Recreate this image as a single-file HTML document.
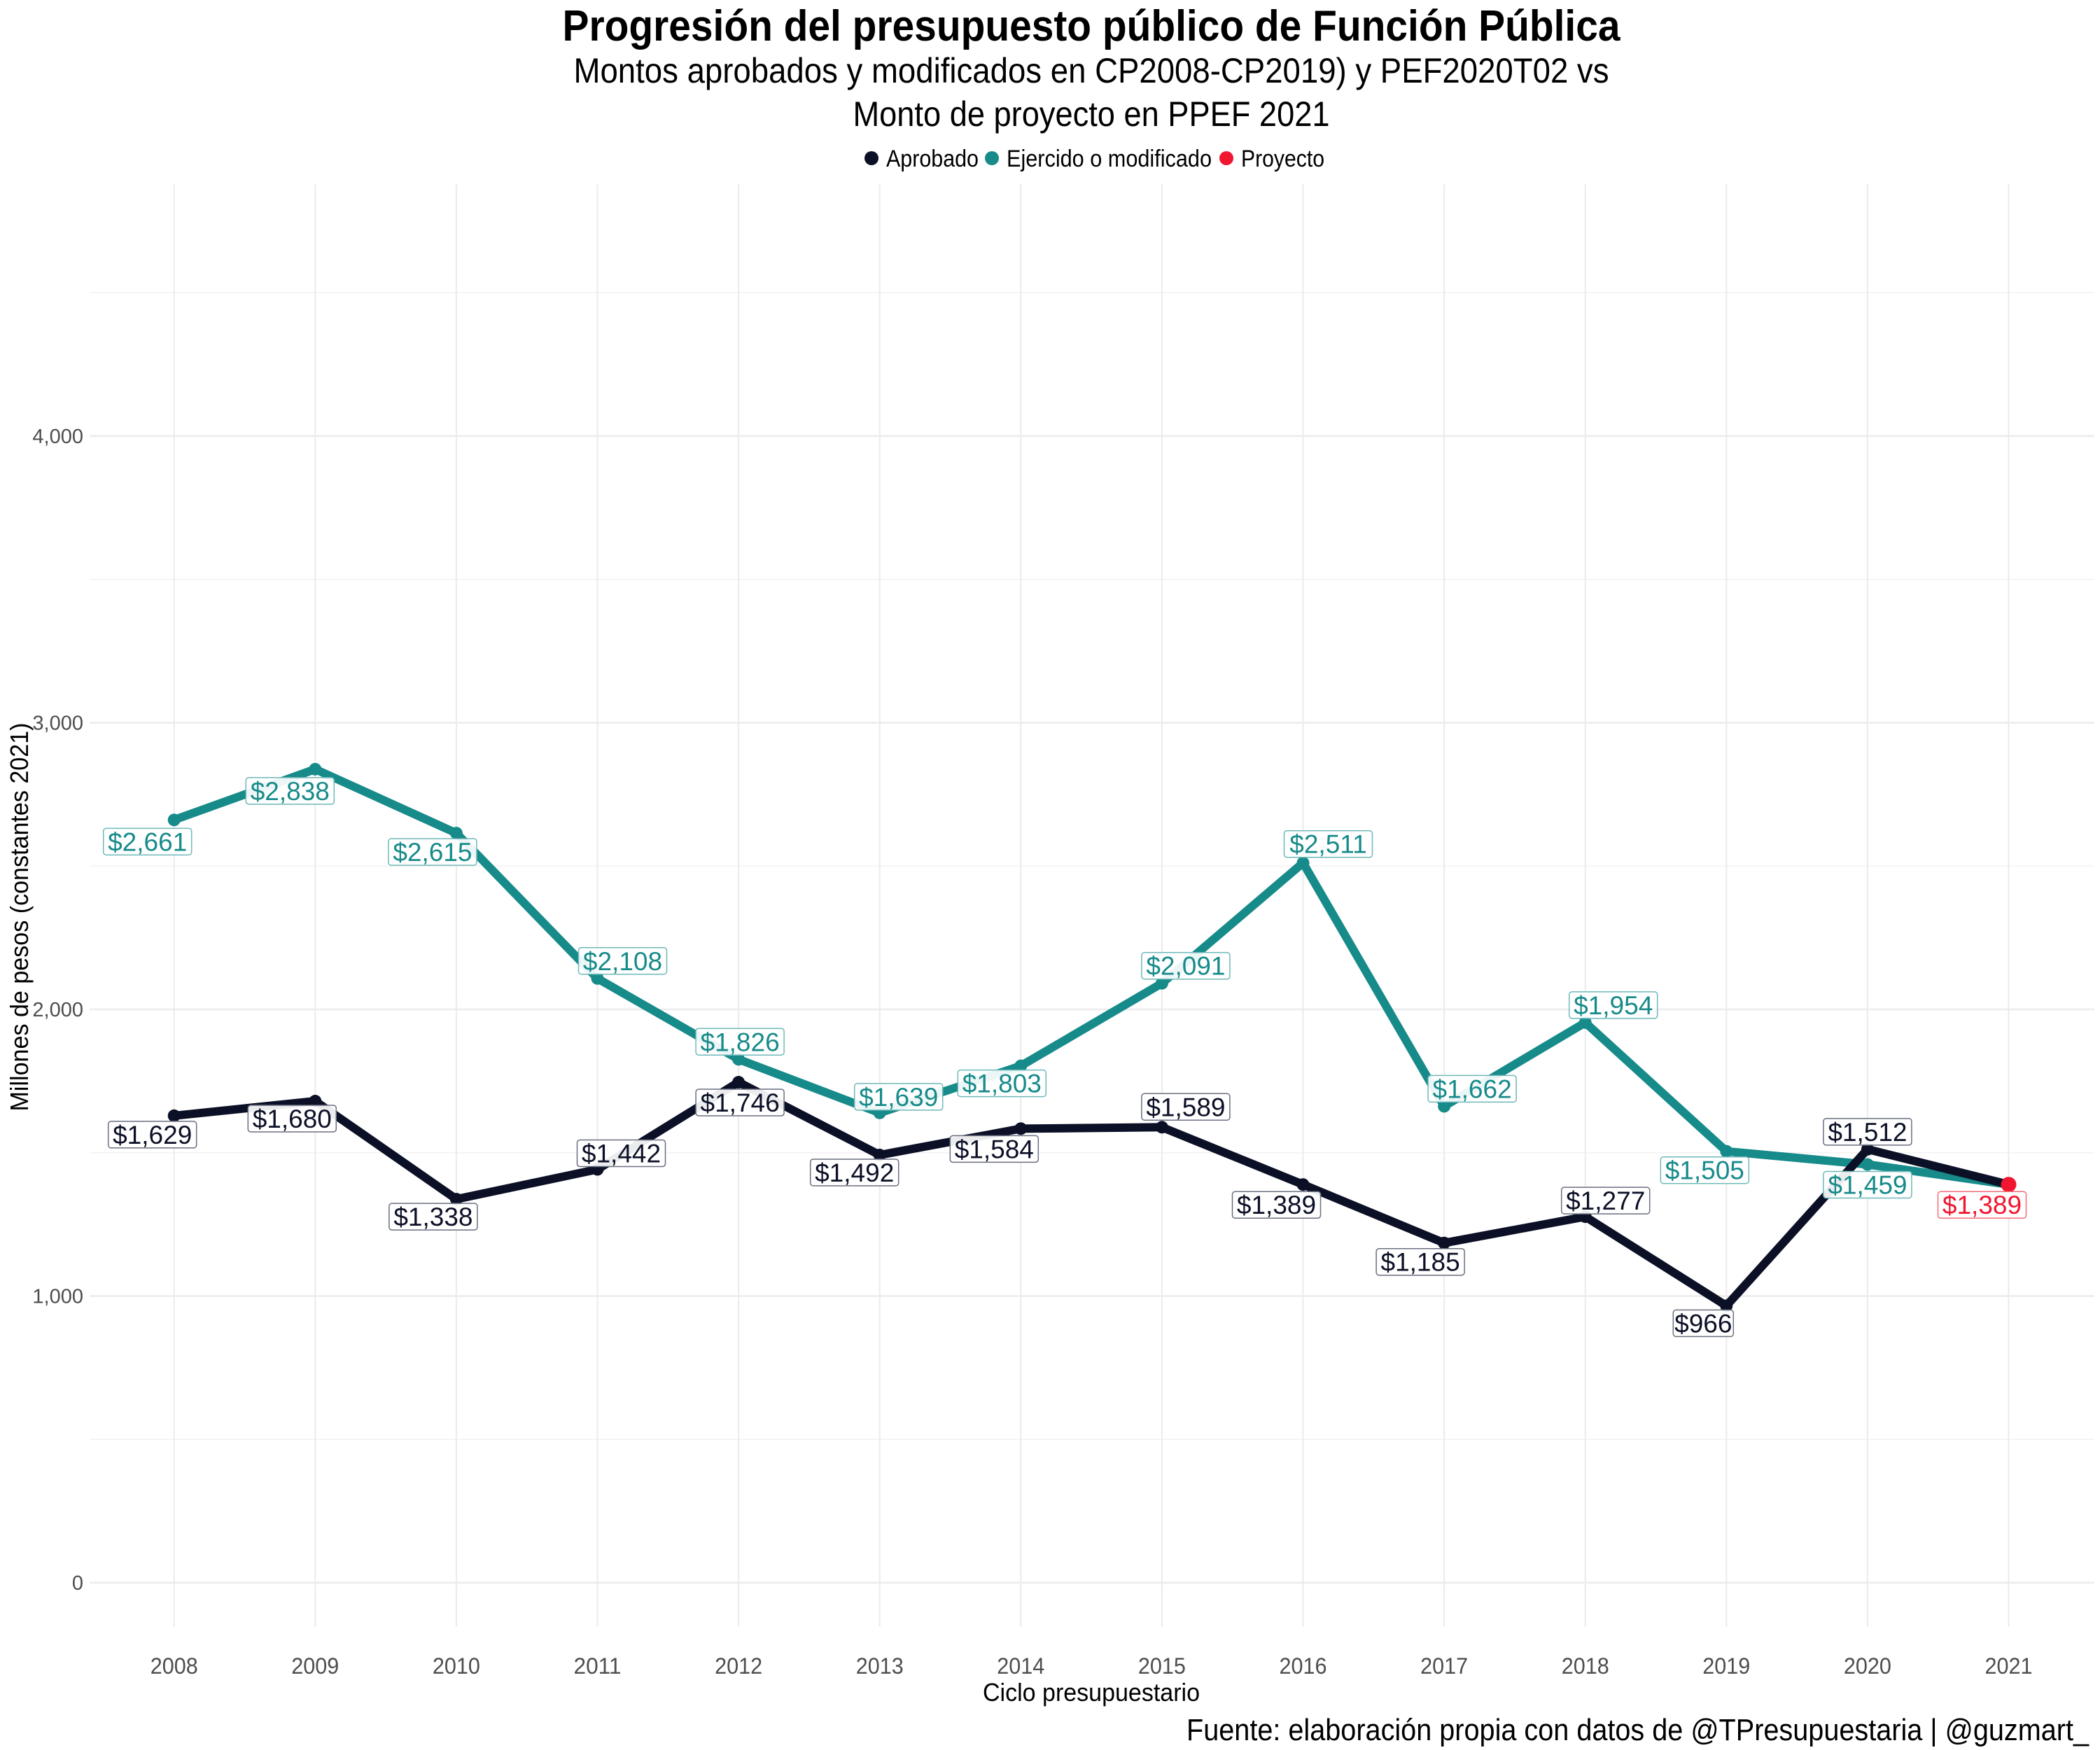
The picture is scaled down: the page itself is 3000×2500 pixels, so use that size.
<!DOCTYPE html>
<html><head><meta charset="utf-8"><style>
html,body{margin:0;padding:0;background:#fff;}
svg{display:block;}
</style></head><body>
<svg id="chart" width="3000" height="2500" viewBox="0 0 3000 2500" xmlns="http://www.w3.org/2000/svg">
<rect width="3000" height="2500" fill="#fff"/>
<text x="1559" y="58" text-anchor="middle" font-family="'Liberation Sans Narrow','Liberation Sans',sans-serif" font-weight="bold" font-size="62" textLength="1511" lengthAdjust="spacingAndGlyphs">Progresión del presupuesto público de Función Pública</text>
<text x="1559" y="118" text-anchor="middle" font-family="'Liberation Sans Narrow','Liberation Sans',sans-serif" font-size="50" textLength="1479" lengthAdjust="spacingAndGlyphs">Montos aprobados y modificados en CP2008-CP2019) y PEF2020T02 vs</text>
<text x="1559" y="180" text-anchor="middle" font-family="'Liberation Sans Narrow','Liberation Sans',sans-serif" font-size="50" textLength="681" lengthAdjust="spacingAndGlyphs">Monto de proyecto en PPEF 2021</text>
<g font-family="'Liberation Sans Narrow','Liberation Sans',sans-serif" font-size="34">
  <g><circle cx="1245" cy="226" r="10" fill="#0b1026"/><text x="1266" y="238" textLength="132" lengthAdjust="spacingAndGlyphs">Aprobado</text></g>
  <g><circle cx="1417" cy="226" r="10" fill="#178a8a"/><text x="1438" y="238" textLength="293" lengthAdjust="spacingAndGlyphs">Ejercido o modificado</text></g>
  <g><circle cx="1752" cy="226" r="10" fill="#f0162f"/><text x="1773" y="238" textLength="119" lengthAdjust="spacingAndGlyphs">Proyecto</text></g>
</g>
<g id="grid"></g>
<g id="axes"></g>
<g id="series"></g>
<g id="labels"></g>
<text transform="translate(40,1310) rotate(-90)" text-anchor="middle" font-family="'Liberation Sans Narrow','Liberation Sans',sans-serif" font-size="36" textLength="555" lengthAdjust="spacingAndGlyphs">Millones de pesos (constantes 2021)</text>
<text x="1559" y="2430" text-anchor="middle" font-family="'Liberation Sans Narrow','Liberation Sans',sans-serif" font-size="36" textLength="310" lengthAdjust="spacingAndGlyphs">Ciclo presupuestario</text>
<text x="2984" y="2486" text-anchor="end" font-family="'Liberation Sans Narrow','Liberation Sans',sans-serif" font-size="44" textLength="1289" lengthAdjust="spacingAndGlyphs">Fuente: elaboración propia con datos de @TPresupuestaria | @guzmart_</text>
</svg>
<script>
const years = [2008,2009,2010,2011,2012,2013,2014,2015,2016,2017,2018,2019,2020,2021];
const aprobado = [1629,1680,1338,1442,1746,1492,1584,1589,1389,1185,1277,966,1512,1389];
const ejercido = [2661,2838,2615,2108,1826,1639,1803,2091,2511,1662,1954,1505,1459,1389];
const proyectoYears = [2021];
const proyecto = [1389];
const yTicks = [0,1000,2000,3000,4000];
const yTickLabels = ["0","1,000","2,000","3,000","4,000"];
const yMinor = [500,1500,2500,3500,4500];
// label offsets (layout, in px)
const aprOff = [[-31,27],[-33,25],[-33,25],[34,-23],[2,29],[-36,25],[-38,29],[34,-29],[-38,29],[-34,27],[29,-23],[-33,25],[0,-25]];
const ejeOff = [[-38,31],[-36,31],[-34,27],[36,-25],[2,-25],[27,-23],[-27,25],[34,-25],[36,-27],[40,-25],[40,-25],[-31,27],[0,29]];
const proOff = [[-38,29]];

const NS="http://www.w3.org/2000/svg";
const X0=248.7, XS=201.6, Y0=2261, YS=0.4095;
const PX0=128, PX1=2992, PY0=263, PY1=2324;
function xp(yr){return X0+(yr-2008)*XS;}
function yp(v){return Y0-v*YS;}
function el(tag,attrs,parent){const e=document.createElementNS(NS,tag);for(const k in attrs)e.setAttribute(k,attrs[k]);parent.appendChild(e);return e;}
const grid=document.getElementById('grid'), axes=document.getElementById('axes'), series=document.getElementById('series'), labels=document.getElementById('labels');

yMinor.forEach(v=>{const l=el('line',{x1:PX0,x2:PX1,y1:yp(v),y2:yp(v),stroke:'#f2f2f2','stroke-width':1.5},grid);

});
yTicks.forEach((v,i)=>{const l=el('line',{x1:PX0,x2:PX1,y1:yp(v),y2:yp(v),stroke:'#ebebeb','stroke-width':2.5},grid);


const t=el('text',{x:119,y:yp(v)+10,'text-anchor':'end','font-family':"'Liberation Sans',sans-serif",'font-size':29,fill:'#4d4d4d'},axes);
t.textContent=yTickLabels[i];

});
years.forEach(yr=>{const l=el('line',{x1:xp(yr),x2:xp(yr),y1:PY0,y2:PY1,stroke:'#ebebeb','stroke-width':2},grid);


const t=el('text',{x:xp(yr),y:2391,'text-anchor':'middle','font-family':"'Liberation Sans Narrow','Liberation Sans',sans-serif",'font-size':32,fill:'#4d4d4d',textLength:68,lengthAdjust:'spacingAndGlyphs'},axes);
t.textContent=String(yr);

});

function drawLine(vals,color,name){
  const pts=vals.map((v,i)=>xp(years[i]).toFixed(1)+','+yp(v).toFixed(1)).join(' ');
  const p=el('polyline',{points:pts,fill:'none',stroke:color,'stroke-width':12,'stroke-linejoin':'round','stroke-linecap':'round'},series);
  
  
  vals.forEach((v,i)=>{const c=el('circle',{cx:xp(years[i]),cy:yp(v),r:9,fill:color},series);
  
  });
}
drawLine(ejercido,'#178a8a','ejercido');
drawLine(aprobado,'#0b1026','aprobado');
proyecto.forEach((v,i)=>{const c=el('circle',{cx:xp(proyectoYears[i]),cy:yp(v),r:11,fill:'#f0162f'},series);

});

function fmt(v){return '$'+v.toLocaleString('en-US');}
function drawLabels(ys,vals,offs,color,border,name){
  offs.forEach((o,i)=>{
    if(i>=vals.length)return;
    const cx=xp(ys[i])+o[0], cy=yp(vals[i])+o[1];
    const txt=fmt(vals[i]); const w=txt.length*20+6;
    const g=el('g',{},labels);
    
    
    el('rect',{x:cx-w/2,y:cy-19,width:w,height:38,rx:4,fill:'#fff','fill-opacity':0.92,stroke:border,'stroke-width':1.5},g);
    const t=el('text',{x:cx,y:cy+13,'text-anchor':'middle','font-family':"'Liberation Sans',sans-serif",'font-size':37,fill:color},g);
    t.textContent=txt;
  });
}
drawLabels(years,aprobado.slice(0,13),aprOff,'#0b1026','#6a6f80','aprobado');
drawLabels(years,ejercido.slice(0,13),ejeOff,'#178a8a','#6fb8b8','ejercido');
drawLabels(proyectoYears,proyecto,proOff,'#f0162f','#f36a7a','proyecto');
</script>
</body></html>
